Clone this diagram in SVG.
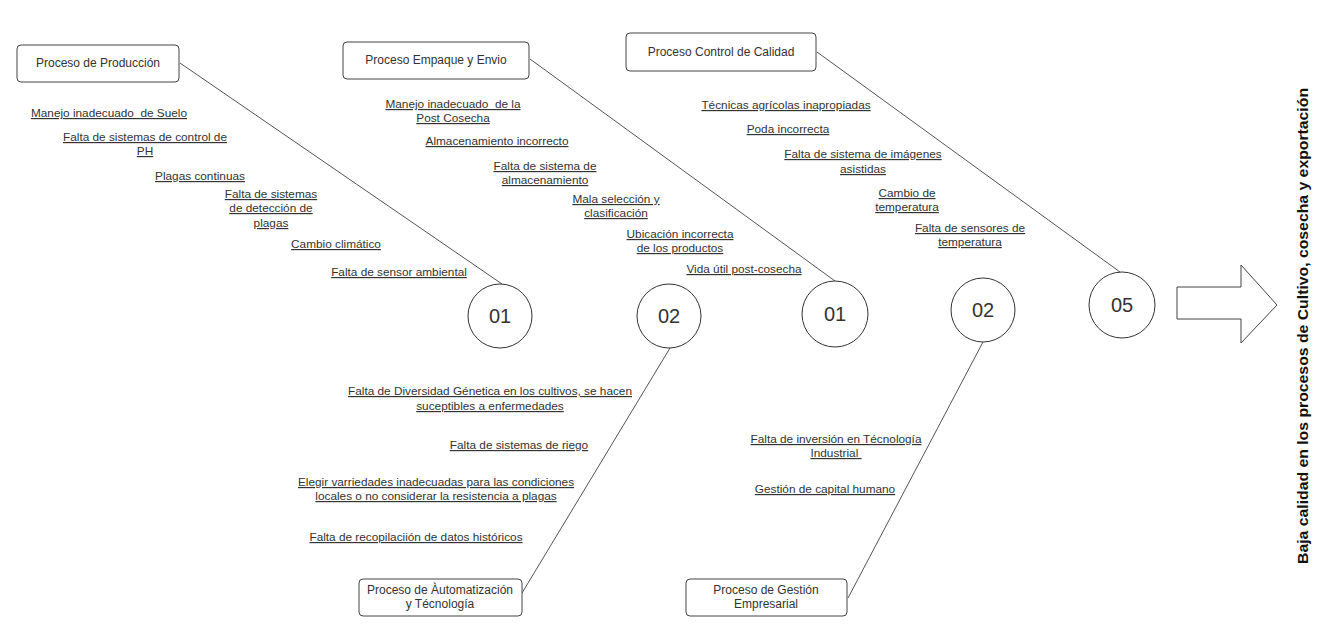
<svg xmlns="http://www.w3.org/2000/svg" width="1320" height="629" viewBox="0 0 1320 629">
  <style>
    .box { fill: #ffffff; stroke: #444444; stroke-width: 1; }
    .circ { fill: #ffffff; stroke: #333333; stroke-width: 1; }
    .bone { stroke: #555555; stroke-width: 1; fill: none; }
    .lbl { font-family: "Liberation Sans", Arial, sans-serif; font-size: 12px; fill: #333333; text-anchor: middle; }
    .cause { font-family: "Liberation Sans", Arial, sans-serif; font-size: 11.8px; fill: #333333; text-anchor: middle; text-decoration: underline; }
    .num { font-family: "Liberation Sans", Arial, sans-serif; font-size: 20px; fill: #333333; text-anchor: middle; }
    .effect { font-family: "Liberation Sans", Arial, sans-serif; font-size: 15px; font-weight: bold; fill: #111111; text-anchor: middle; }
  </style>
  <rect width="1320" height="629" fill="#ffffff"/>

  <!-- bones linking category boxes to their numbered circles -->
  <g id="connectors">
    <line class="bone" x1="180" y1="63" x2="502" y2="284"/>
    <line class="bone" x1="530" y1="59" x2="835" y2="281"/>
    <line class="bone" x1="817" y1="52" x2="1120" y2="272"/>
    <line class="bone" x1="522" y1="593" x2="670" y2="348"/>
    <line class="bone" x1="848" y1="598" x2="983" y2="342"/>
  </g>

  <!-- category boxes -->
  <g id="cat-produccion">
    <rect class="box" x="17" y="45" width="162" height="37" rx="4"/>
    <text class="lbl" x="98" y="67">Proceso de Producción</text>
  </g>
  <g id="cat-empaque">
    <rect class="box" x="343" y="42" width="186" height="37" rx="4"/>
    <text class="lbl" x="436" y="64">Proceso Empaque y Envio</text>
  </g>
  <g id="cat-calidad">
    <rect class="box" x="626" y="33" width="190" height="38" rx="4"/>
    <text class="lbl" x="721" y="56">Proceso Control de Calidad</text>
  </g>
  <g id="cat-automatizacion">
    <rect class="box" x="359" y="579" width="163" height="37" rx="4"/>
    <text class="lbl" x="440" y="594">Proceso de Àutomatización</text>
    <text class="lbl" x="440" y="608">y Técnología</text>
  </g>
  <g id="cat-gestion">
    <rect class="box" x="686" y="579" width="161" height="37" rx="4"/>
    <text class="lbl" x="766" y="594">Proceso de Gestión</text>
    <text class="lbl" x="766" y="608">Empresarial</text>
  </g>

  <!-- numbered circles on the spine -->
  <g id="c1">
    <circle class="circ" cx="500" cy="316" r="32"/>
    <text class="num" x="500" y="323">01</text>
  </g>
  <g id="c2">
    <circle class="circ" cx="669" cy="316" r="32"/>
    <text class="num" x="669" y="323">02</text>
  </g>
  <g id="c3">
    <circle class="circ" cx="835" cy="314" r="33"/>
    <text class="num" x="835" y="321">01</text>
  </g>
  <g id="c4">
    <circle class="circ" cx="983" cy="310" r="32"/>
    <text class="num" x="983" y="317">02</text>
  </g>
  <g id="c5">
    <circle class="circ" cx="1122" cy="305" r="33"/>
    <text class="num" x="1122" y="312">05</text>
  </g>

  <!-- causes: production -->
  <g id="causes-produccion">
    <text class="cause" x="109" y="117" xml:space="preserve">Manejo inadecuado  de Suelo</text>
    <text class="cause" x="145" y="141">Falta de sistemas de control de</text>
    <text class="cause" x="145" y="155">PH</text>
    <text class="cause" x="200" y="180">Plagas continuas</text>
    <text class="cause" x="271" y="198">Falta de sistemas</text>
    <text class="cause" x="271" y="212">de detección de</text>
    <text class="cause" x="271" y="227">plagas</text>
    <text class="cause" x="336" y="248">Cambio climático</text>
    <text class="cause" x="399" y="276">Falta de sensor ambiental</text>
  </g>

  <!-- causes: packing and shipping -->
  <g id="causes-empaque">
    <text class="cause" x="453" y="108" xml:space="preserve">Manejo inadecuado  de la</text>
    <text class="cause" x="453" y="122">Post Cosecha</text>
    <text class="cause" x="497" y="145">Almacenamiento incorrecto</text>
    <text class="cause" x="545" y="170">Falta de sistema de</text>
    <text class="cause" x="545" y="184">almacenamiento</text>
    <text class="cause" x="616" y="203">Mala selección y</text>
    <text class="cause" x="616" y="217">clasificación</text>
    <text class="cause" x="680" y="238">Ubicación incorrecta</text>
    <text class="cause" x="680" y="252">de los productos</text>
    <text class="cause" x="744" y="273">Vida útil post-cosecha</text>
  </g>

  <!-- causes: quality control -->
  <g id="causes-calidad">
    <text class="cause" x="786" y="109">Técnicas agrícolas inapropiadas</text>
    <text class="cause" x="788" y="133">Poda incorrecta</text>
    <text class="cause" x="863" y="158">Falta de sistema de imágenes</text>
    <text class="cause" x="863" y="173">asistidas</text>
    <text class="cause" x="907" y="197">Cambio de</text>
    <text class="cause" x="907" y="211">temperatura</text>
    <text class="cause" x="970" y="232">Falta de sensores de</text>
    <text class="cause" x="970" y="246">temperatura</text>
  </g>

  <!-- causes: automation and technology -->
  <g id="causes-automatizacion">
    <text class="cause" x="490" y="395">Falta de Diversidad Génetica en los cultivos, se hacen</text>
    <text class="cause" x="490" y="410">suceptibles a enfermedades</text>
    <text class="cause" x="519" y="449">Falta de sistemas de riego</text>
    <text class="cause" x="436" y="486">Elegir varriedades inadecuadas para las condiciones</text>
    <text class="cause" x="436" y="500">locales o no considerar la resistencia a plagas</text>
    <text class="cause" x="416" y="541">Falta de recopilaciión de datos históricos</text>
  </g>

  <!-- causes: business management -->
  <g id="causes-gestion">
    <text class="cause" x="836" y="443">Falta de inversión en Técnología</text>
    <text class="cause" x="836" y="457" xml:space="preserve">Industrial </text>
    <text class="cause" x="825" y="493">Gestión de capital humano</text>
  </g>

  <!-- block arrow toward the effect -->
  <g id="arrow">
    <path class="box" d="M1177 287 L1241 287 L1241 265 L1277 305 L1241 343 L1241 319 L1177 319 Z"/>
  </g>

  <!-- effect -->
  <g id="effect">
    <text class="effect" transform="translate(1308 326) rotate(-90)" textLength="476" lengthAdjust="spacingAndGlyphs">Baja calidad en los procesos de Cultivo, cosecha y exportación</text>
  </g>
</svg>
